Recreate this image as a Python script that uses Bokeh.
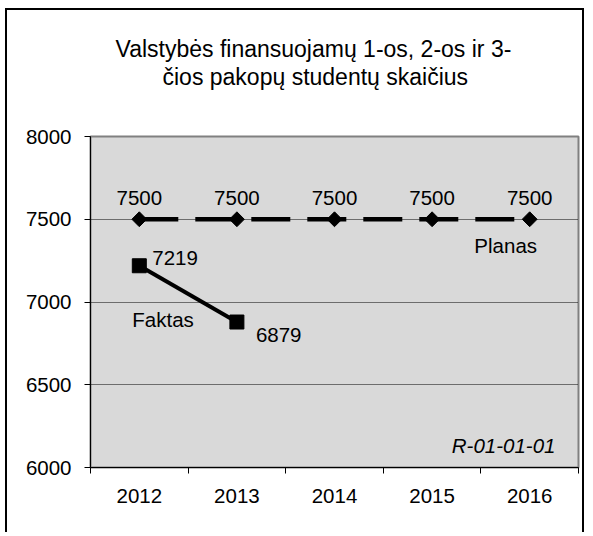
import math
from bokeh.plotting import figure
from bokeh.models import Range1d, FixedTicker, Label, Title
from bokeh.embed import file_html
from bokeh.resources import INLINE
from bokeh.core.properties import value

# ---- data ----
years = ["2012", "2013", "2014", "2015", "2016"]
planas = [7500, 7500, 7500, 7500, 7500]
faktas_years = ["2012", "2013"]
faktas = [7219, 6879]
y_ticks = [6000, 6500, 7000, 7500, 8000]
title_lines = ["Valstybės finansuojamų 1-os, 2-os ir 3-", "čios pakopų studentų skaičius"]
series_names = ["Planas", "Faktas"]
code_label = "R-01-01-01"

FONT = "Liberation Sans"
FS = "20.5px"

pos = {y: i + 0.5 for i, y in enumerate(years)}
px = [pos[y] for y in years]
fx = [pos[y] for y in faktas_years]

p = figure(width=579, height=524, output_backend="svg", toolbar_location=None, title=None,
           x_range=Range1d(0, len(years)), y_range=Range1d(y_ticks[0], y_ticks[-1]),
           min_border_left=83, min_border_right=8, min_border_top=0, min_border_bottom=67,
           background_fill_color="#D9D9D9", border_fill_color="white",
           outline_line_color="#808080", outline_line_width=2,
           styles={"border-left": "2px solid black", "border-top": "2px solid black",
                   "border-right": "2px solid black",
                   "margin-left": "5px", "margin-top": "8px"})

# title (stacked above the frame: first added is closest to the frame)
p.add_layout(Title(text=" ", text_font_size="10px", standoff=34.3, text_font=FONT), "above")
p.add_layout(Title(text=title_lines[1], align="left", offset=72, standoff=0,
                   text_font=FONT, text_font_size="23px", text_font_style="normal",
                   text_color="black"), "above")
p.add_layout(Title(text=title_lines[0], align="left", offset=25, standoff=0,
                   text_font=FONT, text_font_size="23px", text_font_style="normal",
                   text_color="black"), "above")
p.add_layout(Title(text=" ", text_font_size="10px", standoff=9.7, text_font=FONT), "above")

# grid
p.xgrid.visible = False
p.ygrid.ticker = FixedTicker(ticks=y_ticks)
p.ygrid.grid_line_color = "black"
p.ygrid.grid_line_dash = "1 1"
p.ygrid.grid_line_width = 1

# y axis
yax = p.yaxis[0]
yax.ticker = FixedTicker(ticks=y_ticks)
yax.major_label_text_font = FONT
yax.major_label_text_font_size = FS
yax.major_label_text_color = "black"
yax.major_tick_in = 0
yax.major_tick_out = 6
yax.minor_tick_line_color = None
yax.major_label_standoff = 13
yax.axis_line_color = "black"
yax.major_tick_line_color = "black"

# x axis
xax = p.xaxis[0]
xax.ticker = FixedTicker(ticks=px, minor_ticks=list(range(len(years) + 1)))
xax.major_label_overrides = {x: y for x, y in zip(px, years)}
xax.major_label_text_font = FONT
xax.major_label_text_font_size = FS
xax.major_label_text_color = "black"
xax.major_tick_line_color = None
xax.major_tick_in = 0
xax.major_tick_out = 0
xax.minor_tick_in = 0
xax.minor_tick_out = 6
xax.minor_tick_line_color = "black"
xax.major_label_standoff = 15
xax.axis_line_color = "black"

# Planas
p.line(px, planas, line_color="black", line_width=4.5, line_dash="39 17")
p.scatter(px, planas, marker="square", angle=math.pi / 4, size=10.5,
          fill_color="black", line_color="black")
p.text(px, planas, text=[str(v) for v in planas], text_align="center",
       text_baseline="middle", y_offset=-21.5, text_font=value(FONT),
       text_font_size=FS, text_color="black")
p.text([px[-1]], [planas[-1]], text=[series_names[0]], text_align="center",
       text_baseline="middle", x_offset=-24, y_offset=26, text_font=value(FONT),
       text_font_size=FS, text_color="black")

# Faktas
p.line(fx, faktas, line_color="black", line_width=4)
p.scatter(fx, faktas, marker="square", size=14, fill_color="black", line_color="black")
p.text([fx[0]], [faktas[0]], text=[str(faktas[0])], text_align="left",
       text_baseline="middle", x_offset=13, y_offset=-8, text_font=value(FONT),
       text_font_size=FS, text_color="black")
p.text([fx[1]], [faktas[1]], text=[str(faktas[1])], text_align="left",
       text_baseline="middle", x_offset=19, y_offset=13, text_font=value(FONT),
       text_font_size=FS, text_color="black")
p.text([fx[0]], [faktas[0]], text=[series_names[1]], text_align="left",
       text_baseline="middle", x_offset=-7, y_offset=54, text_font=value(FONT),
       text_font_size=FS, text_color="black")

# code label
p.add_layout(Label(x=465, y=22, x_units="screen", y_units="screen", text=code_label,
                   text_align="right", text_baseline="middle", text_font=FONT,
                   text_font_size=FS, text_font_style="italic", text_color="black"))

open("out.html", "w").write(file_html(p, INLINE))
